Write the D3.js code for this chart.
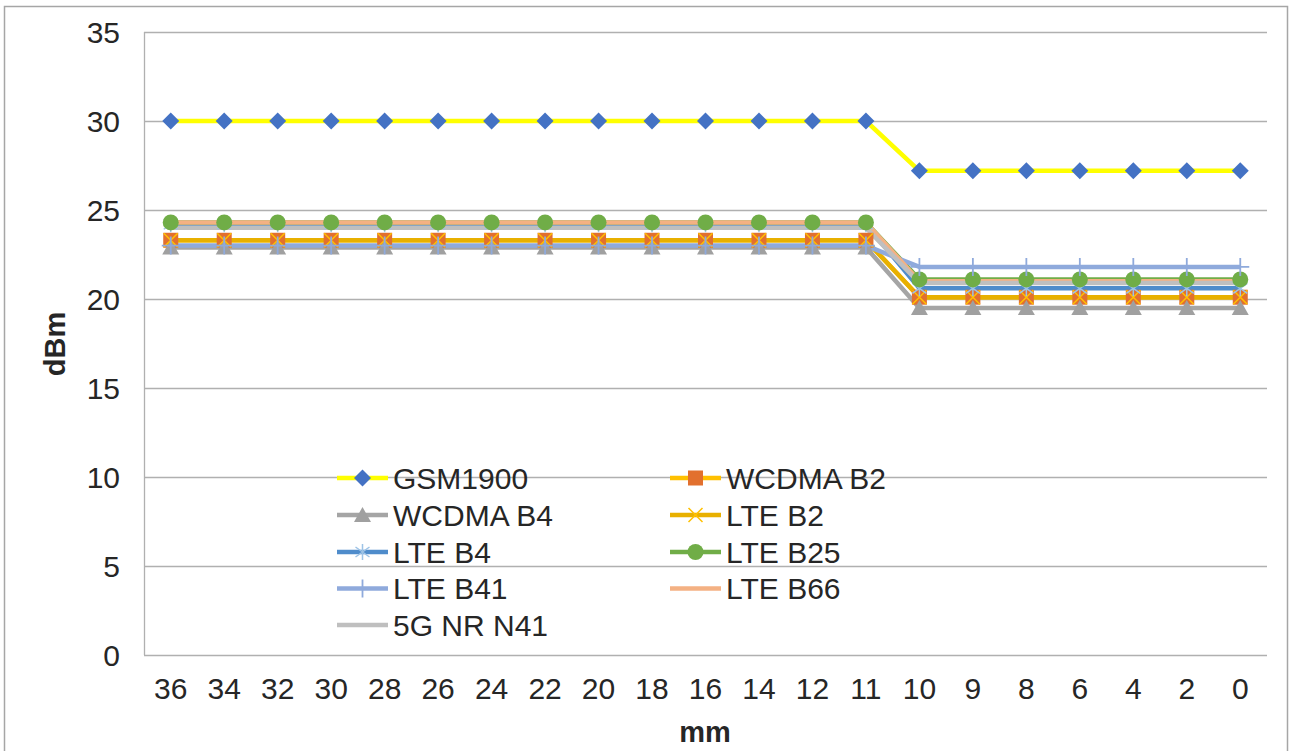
<!DOCTYPE html>
<html>
<head>
<meta charset="utf-8">
<script src="https://cdn.jsdelivr.net/npm/d3@7"></script>
<style>
	body { margin: 0; background: #fff; }
	text { font-family: "Liberation Sans", Arial, sans-serif; fill: #262626; }
</style>
</head>
<body>
<div id="chart"></div>
<script>
// x categories (mm)
const categories = ['36','34','32','30','28','26','24','22','20','18','16','14','12','11','10','9','8','6','4','2','0'];

// series values (dBm)
const gsm1900  = [30,30,30,30,30,30,30,30,30,30,30,30,30,30,27.2,27.2,27.2,27.2,27.2,27.2,27.2];
const wcdmaB2  = [23.3,23.3,23.3,23.3,23.3,23.3,23.3,23.3,23.3,23.3,23.3,23.3,23.3,23.3,20.1,20.1,20.1,20.1,20.1,20.1,20.1];
const wcdmaB4  = [22.9,22.9,22.9,22.9,22.9,22.9,22.9,22.9,22.9,22.9,22.9,22.9,22.9,22.9,19.5,19.5,19.5,19.5,19.5,19.5,19.5];
const lteB2    = [23.3,23.3,23.3,23.3,23.3,23.3,23.3,23.3,23.3,23.3,23.3,23.3,23.3,23.3,20.1,20.1,20.1,20.1,20.1,20.1,20.1];
const lteB4    = [24.2,24.2,24.2,24.2,24.2,24.2,24.2,24.2,24.2,24.2,24.2,24.2,24.2,24.2,20.6,20.6,20.6,20.6,20.6,20.6,20.6];
const lteB25   = [24.3,24.3,24.3,24.3,24.3,24.3,24.3,24.3,24.3,24.3,24.3,24.3,24.3,24.3,21.1,21.1,21.1,21.1,21.1,21.1,21.1];
const lteB41   = [23.0,23.0,23.0,23.0,23.0,23.0,23.0,23.0,23.0,23.0,23.0,23.0,23.0,23.0,21.8,21.8,21.8,21.8,21.8,21.8,21.8];
const lteB66   = [24.3,24.3,24.3,24.3,24.3,24.3,24.3,24.3,24.3,24.3,24.3,24.3,24.3,24.3,21.0,21.0,21.0,21.0,21.0,21.0,21.0];
const nrN41    = [24.0,24.0,24.0,24.0,24.0,24.0,24.0,24.0,24.0,24.0,24.0,24.0,24.0,24.0,20.9,20.9,20.9,20.9,20.9,20.9,20.9];

const yTicks = [0,5,10,15,20,25,30,35];

const series = [
	{name: 'GSM1900',    values: gsm1900, line: '#FFFF00', marker: 'diamond',  mcolor: '#4472C4'},
	{name: 'WCDMA B2',   values: wcdmaB2, line: '#FFC000', marker: 'square',   mcolor: '#E2702E'},
	{name: 'WCDMA B4',   values: wcdmaB4, line: '#A5A5A5', marker: 'triangle', mcolor: '#A0A0A0'},
	{name: 'LTE B2',     values: lteB2,   line: '#E8B000', marker: 'x',        mcolor: '#FFC000'},
	{name: 'LTE B4',     values: lteB4,   line: '#4F8CCB', marker: 'star',     mcolor: '#9DC3E6'},
	{name: 'LTE B25',    values: lteB25,  line: '#70AD47', marker: 'circle',   mcolor: '#70AD47'},
	{name: 'LTE B41',    values: lteB41,  line: '#8FAADC', marker: 'plus',     mcolor: '#8FAADC'},
	{name: 'LTE B66',    values: lteB66,  line: '#F4B183', marker: null},
	{name: '5G NR N41',  values: nrN41,   line: '#BFBFBF', marker: null}
];

const width = 1290, height = 751;
const plot = {left: 144, right: 1267, top: 32, bottom: 655};

const svg = d3.select('#chart').append('svg')
	.attr('width', width)
	.attr('height', height);

// outer chart border
svg.append('rect')
	.attr('x', 4.5).attr('y', 6.5)
	.attr('width', 1283).attr('height', 780)
	.attr('fill', 'none')
	.attr('stroke', '#a6a6a6')
	.attr('stroke-width', 1.5);

const x = d3.scalePoint()
	.domain(categories)
	.range([plot.left, plot.right])
	.padding(0.5);

const y = d3.scaleLinear()
	.domain([0, 35])
	.range([plot.bottom, plot.top]);

// gridlines
svg.append('g')
	.selectAll('line')
	.data(yTicks)
	.enter().append('line')
	.attr('x1', plot.left).attr('x2', plot.right)
	.attr('y1', d => Math.round(y(d)) + 0.5)
	.attr('y2', d => Math.round(y(d)) + 0.5)
	.attr('stroke', '#b0b0b0')
	.attr('stroke-width', 1.3);

// left axis line
svg.append('line')
	.attr('x1', plot.left + 0.5).attr('x2', plot.left + 0.5)
	.attr('y1', plot.top).attr('y2', plot.bottom)
	.attr('stroke', '#b0b0b0')
	.attr('stroke-width', 1.3);

// y tick labels
svg.append('g')
	.selectAll('text')
	.data(yTicks)
	.enter().append('text')
	.attr('x', 120)
	.attr('y', d => y(d))
	.attr('dy', '0.36em')
	.attr('text-anchor', 'end')
	.style('font-size', '30px')
	.text(d => d);

// x tick labels
svg.append('g')
	.selectAll('text')
	.data(categories)
	.enter().append('text')
	.attr('x', d => x(d))
	.attr('y', 688)
	.attr('dy', '0.36em')
	.attr('text-anchor', 'middle')
	.style('font-size', '30px')
	.text(d => d);

// axis titles
svg.append('text')
	.attr('x', 705).attr('y', 742)
	.attr('text-anchor', 'middle')
	.style('font-size', '29px')
	.style('font-weight', 'bold')
	.text('mm');

svg.append('text')
	.attr('transform', 'translate(65,344) rotate(-90)')
	.attr('text-anchor', 'middle')
	.style('font-size', '29px')
	.style('font-weight', 'bold')
	.text('dBm');

const lineFn = d3.line()
	.x((d, i) => x(categories[i]))
	.y(d => y(d));

function drawMarker(g, type, color){
	if (type === 'diamond') {
		g.append('path').attr('d', 'M0,-8.5L8.5,0L0,8.5L-8.5,0Z').attr('fill', color);
	} else if (type === 'square') {
		g.append('rect').attr('x', -7.5).attr('y', -7.5).attr('width', 15).attr('height', 15).attr('fill', color);
	} else if (type === 'triangle') {
		g.append('path').attr('d', 'M0,-8L8.5,7L-8.5,7Z').attr('fill', color);
	} else if (type === 'circle') {
		g.append('circle').attr('r', 8).attr('fill', color);
	} else if (type === 'x') {
		g.append('path').attr('d', 'M-7,-7L7,7M-7,7L7,-7').attr('stroke', color).attr('stroke-width', 1.5);
	} else if (type === 'star') {
		g.append('path').attr('d', 'M0,-8L0,8M-7,-5L7,5M-7,5L7,-5').attr('stroke', color).attr('stroke-width', 1.5);
	} else if (type === 'plus') {
		g.append('path').attr('d', 'M0,-9L0,9M-9,0L9,0').attr('stroke', color).attr('stroke-width', 1.8);
	}
}

// lines first, then markers on top
const linesG = svg.append('g');
series.forEach(s => {
	linesG.append('path')
		.datum(s.values)
		.attr('d', lineFn)
		.attr('fill', 'none')
		.attr('stroke', s.line)
		.attr('stroke-width', 4.5)
		.attr('stroke-linejoin', 'round');
});

const markersG = svg.append('g');
series.filter(s => s.marker).forEach(s => {
	s.values.forEach((v, i) => {
		const g = markersG.append('g')
			.attr('transform', `translate(${x(categories[i])},${y(v)})`);
		drawMarker(g, s.marker, s.mcolor);
	});
});

// legend
const legendCols = [337, 670];
const legendRows = [478, 515, 552, 588.5, 625];
const legend = svg.append('g');
series.forEach((s, i) => {
	const lx = legendCols[i % 2];
	const ly = legendRows[Math.floor(i / 2)];
	const g = legend.append('g');
	g.append('line')
		.attr('x1', lx).attr('x2', lx + 51)
		.attr('y1', ly).attr('y2', ly)
		.attr('stroke', s.line)
		.attr('stroke-width', 4.5);
	if (s.marker) {
		drawMarker(g.append('g').attr('transform', `translate(${lx + 25.5},${ly})`), s.marker, s.mcolor);
	}
	g.append('text')
		.attr('x', lx + 56)
		.attr('y', ly)
		.attr('dy', '0.36em')
		.style('font-size', '30px')
		.text(s.name);
});
</script>
</body>
</html>
